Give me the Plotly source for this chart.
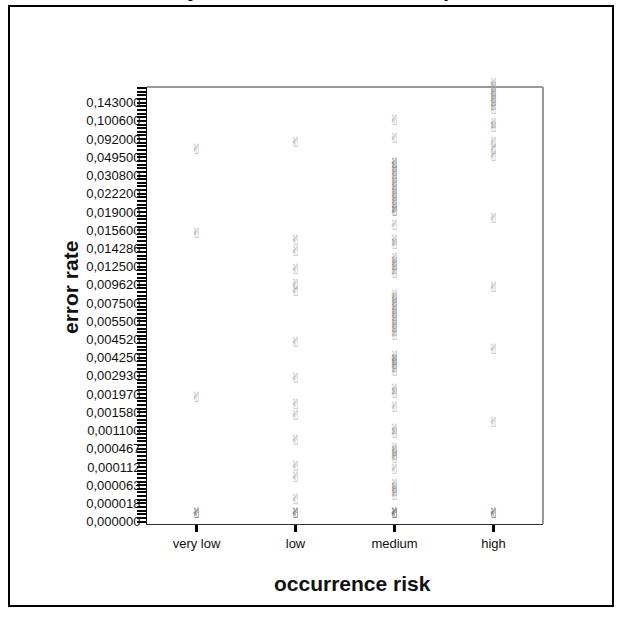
import plotly.graph_objects as go

# Occurrence-risk classes on the x axis
risk_levels = ["very low", "low", "medium", "high"]

# Ordered error-rate classes on the y axis (categorical, lowest first)
rate_categories = [
    "0,000000", "0,000002", "0,000005", "0,000009", "0,000014",
    "0,000018", "0,000025", "0,000033", "0,000042", "0,000050",
    "0,000063", "0,000071", "0,000080", "0,000091", "0,000100",
    "0,000112", "0,000150", "0,000213", "0,000300", "0,000385",
    "0,000467", "0,000560", "0,000680", "0,000830", "0,000950",
    "0,001100", "0,001200", "0,001290", "0,001380", "0,001470",
    "0,001580", "0,001650", "0,001740", "0,001820", "0,001900",
    "0,001970", "0,002100", "0,002330", "0,002570", "0,002780",
    "0,002930", "0,003150", "0,003420", "0,003700", "0,004000",
    "0,004250", "0,004300", "0,004360", "0,004410", "0,004470",
    "0,004520", "0,004700", "0,004890", "0,005080", "0,005290",
    "0,005500", "0,005830", "0,006250", "0,006670", "0,007140",
    "0,007500", "0,007900", "0,008330", "0,008750", "0,009170",
    "0,009620", "0,010000", "0,010600", "0,011100", "0,011800",
    "0,012500", "0,012800", "0,013200", "0,013500", "0,013900",
    "0,014286", "0,014500", "0,014800", "0,015000", "0,015300",
    "0,015600", "0,016200", "0,016700", "0,017400", "0,018200",
    "0,019000", "0,019600", "0,020000", "0,020800", "0,021500",
    "0,022200", "0,023500", "0,025000", "0,026700", "0,028600",
    "0,030800", "0,033300", "0,036400", "0,040000", "0,044400",
    "0,049500", "0,055600", "0,062500", "0,071400", "0,083300",
    "0,092000", "0,094000", "0,096000", "0,098000", "0,100000",
    "0,100600", "0,105000", "0,111100", "0,120000", "0,130000",
    "0,143000", "0,166700", "0,200000", "0,250000", "0,333300",
]

# Classes that carry a printed tick label
rate_tick_labels = [
    "0,000000", "0,000018", "0,000063", "0,000112", "0,000467", "0,001100",
    "0,001580", "0,001970", "0,002930", "0,004250", "0,004520", "0,005500",
    "0,007500", "0,009620", "0,012500", "0,014286", "0,015600", "0,019000",
    "0,022200", "0,030800", "0,049500", "0,092000", "0,100600", "0,143000",
]

# Observed error rates per risk class
rates_very_low = ["0,049500", "0,014800", "0,001740",
                  "0,000000", "0,000000", "0,000000"]

rates_low = ["0,062500", "0,014286", "0,013200", "0,010600", "0,008750",
             "0,007900", "0,004360", "0,002330", "0,001580", "0,001290",
             "0,000467", "0,000091", "0,000063", "0,000014",
             "0,000000", "0,000000", "0,000000"]

rates_medium = [
    "0,098000", "0,071400",
    "0,033300", "0,030800", "0,028600", "0,026700", "0,025000", "0,023500",
    "0,022200", "0,021500", "0,020800", "0,020000", "0,019600", "0,019000",
    "0,018200", "0,017400",
    "0,015300",
    "0,014286", "0,013900",
    "0,012500", "0,011800", "0,011100", "0,010600", "0,010000",
    "0,007500", "0,007140", "0,006670", "0,006250", "0,005830", "0,005500",
    "0,005290", "0,005080", "0,004890", "0,004700", "0,004520", "0,004470",
    "0,003700", "0,003420", "0,003150", "0,002930", "0,002780",
    "0,001900", "0,001820",
    "0,001470",
    "0,000830", "0,000680",
    "0,000300", "0,000213", "0,000150", "0,000112",
    "0,000080",
    "0,000042", "0,000033", "0,000025", "0,000018",
    "0,000000", "0,000000", "0,000000", "0,000000",
    "0,033300", "0,017400", "0,003420",
]

rates_high = ["0,250000", "0,200000", "0,166700", "0,143000", "0,130000",
              "0,120000", "0,111100", "0,105000",
              "0,096000", "0,094000",
              "0,062500", "0,049500", "0,040000",
              "0,016200", "0,008330", "0,004250", "0,001100",
              "0,000000", "0,000000", "0,000000"]

observations = {
    "very low": rates_very_low,
    "low": rates_low,
    "medium": rates_medium,
    "high": rates_high,
}

W, H = 622, 619
L, R, T, B = 147, 543, 87, 524   # plot-area edges in pixels


def px_x(p):
    return (p - L) / (R - L)


def px_y(p):
    return (B - p) / (B - T)


fig = go.Figure()

xs, ys = [], []
for risk in risk_levels:
    for r in observations[risk]:
        xs.append(risk)
        ys.append(r)

fig.add_trace(go.Scatter(
    x=xs, y=ys,
    mode="text",
    text=["\u270C"] * len(xs),
    textposition="top center",
    textfont=dict(family="DejaVu Sans", size=14, color="rgba(100,100,100,0.55)"),
    cliponaxis=False,
    hoverinfo="x+y",
    showlegend=False,
))

tick_text = [c if c in rate_tick_labels else "" for c in rate_categories]
n = len(rate_categories)

fig.update_layout(
    width=W, height=H,
    margin=dict(l=L, r=W - R, t=T, b=H - B, pad=0),
    paper_bgcolor="white",
    plot_bgcolor="white",
    font=dict(family="Liberation Sans, Arial, sans-serif", color="#111"),
    xaxis=dict(
        type="category",
        categoryorder="array",
        categoryarray=risk_levels,
        range=[-0.5, 3.5],
        showgrid=False, zeroline=False,
        showline=True, linecolor="#333", linewidth=1,
        ticks="outside", ticklen=7, tickwidth=2.5, tickcolor="#000",
        tickfont=dict(size=13, color="#111"),
    ),
    yaxis=dict(
        type="category",
        categoryorder="array",
        categoryarray=rate_categories,
        tickmode="array",
        tickvals=rate_categories,
        ticktext=tick_text,
        range=[-0.66, n - 0.7],
        showgrid=False, zeroline=False,
        showline=True, linecolor="#000", linewidth=1,
        ticks="outside", ticklen=9, tickwidth=2, tickcolor="#000",
        ticklabelstandoff=-6,
        tickfont=dict(size=13, color="#111"),
    ),
    shapes=[
        # grey top and right edges of the plotting frame
        dict(type="line", xref="paper", yref="paper", x0=0, x1=1, y0=1, y1=1,
             line=dict(color="#9a9a9a", width=2)),
        dict(type="line", xref="paper", yref="paper", x0=1, x1=1, y0=0, y1=1,
             line=dict(color="#9a9a9a", width=2)),
        # outer chart border
        dict(type="rect", xref="paper", yref="paper",
             x0=px_x(9), x1=px_x(613), y0=px_y(606), y1=px_y(6),
             line=dict(color="#000", width=2)),
    ],
    annotations=[
        # chart title, sitting above the top edge of the page
        dict(text="<b><i>Error rate by occurrence risk: scatterplot</i></b>",
             xref="paper", yref="paper", x=px_x(73), y=px_y(3.3),
             xanchor="left", yanchor="bottom", showarrow=False,
             font=dict(size=21, color="#000")),
        # axis titles
        dict(text="<b>error rate</b>", textangle=-90,
             xref="paper", yref="paper", x=px_x(70), y=px_y(288),
             xanchor="center", yanchor="middle", showarrow=False,
             font=dict(size=21, color="#111")),
        dict(text="<b>occurrence risk</b>",
             xref="paper", yref="paper", x=px_x(352), y=px_y(583),
             xanchor="center", yanchor="middle", showarrow=False,
             font=dict(size=21, color="#111")),
    ],
)

fig.write_html("out.html")
